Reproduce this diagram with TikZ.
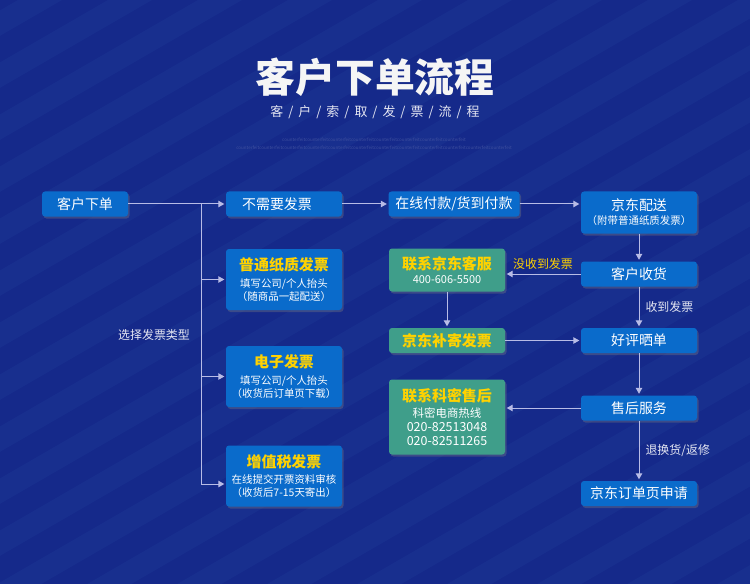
\documentclass[tikz,border=0pt]{standalone}
\usepackage{fontspec}
\newfontfamily\cjk{Noto Sans CJK SC}
\usetikzlibrary{arrows.meta, positioning, shadows, calc}
\definecolor{bgBlue}{HTML}{15298A}
\definecolor{stripeBlue}{HTML}{1C3895}
\definecolor{boxBlue}{HTML}{0A6BCB}
\definecolor{boxGreen}{HTML}{3F9E8A}
\definecolor{mainYellow}{HTML}{FFD200}
\definecolor{lineGray}{HTML}{B8BCE6}
\definecolor{subWhite}{HTML}{E4E6F2}
\newcommand{\bigfs}{\fontsize{14}{16}\selectfont}
\newcommand{\smallfs}{\fontsize{10.5}{12}\selectfont}
\newcommand{\headfs}{\fontsize{15}{17}\selectfont\bfseries\color{mainYellow}}
\newcommand{\slashsep}{\hspace{5bp}/\hspace{5bp}}

\tikzset{
  flowbox/.style={rounded corners=3bp, fill=boxBlue, text=white, align=center,
    inner sep=0pt, minimum width=116bp, minimum height=25bp, font=\cjk\bigfs,
    drop shadow={opacity=0.35, shadow xshift=1.5bp, shadow yshift=-2bp}},
  greenbox/.style={flowbox, fill=boxGreen},
  flow/.style={draw=lineGray, line width=1bp, -{Triangle[length=6bp, width=6.5bp]},
    shorten >=1.5bp},
  note/.style={text=subWhite, font=\cjk\fontsize{12}{14}\selectfont, inner sep=0pt},
}

\begin{document}
\begin{tikzpicture}[x=1bp, y=-1bp]
  % 背景
  \fill[bgBlue] (0,0) rectangle (750,584);
  \begin{scope}
    \clip (0,0) rectangle (750,584);
    \foreach \k in {0,...,22} {
      \draw[stripeBlue, line width=22bp, opacity=0.45] (-50,\k*52) -- ++(900,-520);
    }
  \end{scope}

  % タイトル
  \node[text=white!92!gray, font=\cjk\fontsize{40}{44}\selectfont\bfseries, inner sep=0pt]
    (title) at (375,77) {客户下单流程};
  \node[text=subWhite, font=\cjk\fontsize{13}{15}\selectfont, inner sep=0pt] (subtitle) at (375,112)
    {客\slashsep 户\slashsep 索\slashsep 取\slashsep 发\slashsep 票\slashsep 流\slashsep 程};
  \node[text=bgBlue!82!white, font=\cjk\fontsize{4.5}{5}\selectfont, inner sep=0pt] (mark1) at (374,140)
    {counterfeitcounterfeitcounterfeitcounterfeitcounterfeitcounterfeitcounterfeitcounterfeit};
  \node[text=bgBlue!82!white, font=\cjk\fontsize{4.5}{5}\selectfont, inner sep=0pt] (mark2) at (374,148)
    {counterfeitcounterfeitcounterfeitcounterfeitcounterfeitcounterfeitcounterfeitcounterfeitcounterfeitcounterfeitcounterfeitcounterfeit};

  % 左列
  \node[flowbox, minimum width=86bp] (order) at (85,204) {客户下单};
  \node[flowbox] (nofp) at (284,204) {不需要发票\hspace{14bp}};
  \node[flowbox, minimum height=61bp] (paper) at (284,279.5)
    {{\headfs 普通纸质发票}\\[1bp]{\smallfs 填写公司/个人抬头}\\[-3bp]{\smallfs（随商品一起配送）}};
  \node[flowbox, minimum height=61bp] (einv) at (284,376.5)
    {{\headfs 电子发票}\\[1bp]{\smallfs 填写公司/个人抬头}\\[-3bp]{\smallfs（收货后订单页下载）}};
  \node[flowbox, minimum height=61bp] (vat) at (284,476)
    {{\headfs 增值税发票}\\[1bp]{\smallfs 在线提交开票资料审核}\\[-3bp]{\smallfs（收货后7-15天寄出）}};

  % 中列
  \node[flowbox, minimum width=131bp] (payment) at (454,204) {在线付款/货到付款};
  \node[greenbox, minimum height=43bp] (jdservice) at (447,270)
    {{\headfs 联系京东客服}\\[-2bp]{\fontsize{11}{12}\selectfont 400-606-5500}};
  \node[greenbox] (reissue) at (447,340.5) {\headfs 京东补寄发票};
  \node[greenbox, minimum height=75bp] (kemi) at (447,417)
    {{\headfs 联系科密售后}\\[0bp]{\fontsize{11.5}{13}\selectfont 科密电商热线}\\[-2bp]
     {\fontsize{12.5}{13}\selectfont 020-82513048}\\[-2bp]{\fontsize{12.5}{13}\selectfont 020-82511265}};

  % 右列
  \node[flowbox, minimum height=42bp] (deliver) at (639,212.5)
    {京东配送\\[-2bp]{\smallfs（附带普通纸质发票）}};
  \node[flowbox] (receive) at (639,274) {客户收货};
  \node[flowbox] (review) at (639,340.5) {好评晒单};
  \node[flowbox] (aftersale) at (639,408) {售后服务};
  \node[flowbox] (apply) at (639,493.5) {京东订单页申请};

  % 分岐
  \coordinate (split) at (201,204);
  \draw[flow] (order) -- (nofp);
  \draw[flow] (split) |- ([yshift=-8bp]vat.west);
  \foreach \n in {paper, einv} {
    \draw[flow] (split |- \n.west) -- (\n.west);
  }
  \node[note] (choose) at (154,334.5) {选择发票类型};

  % 流れ
  \draw[flow] (nofp) -- (payment);
  \draw[flow] (payment) -- (deliver.west |- payment.east);
  \draw[flow] (deliver) -- (receive);
  \draw[flow] (receive.west) -- (receive.west -| jdservice.east)
    node[midway, above=4bp, note, text=mainYellow] (nogot) {没收到发票};
  \draw[flow] (receive) -- (review)
    node[midway, right=6bp, note] (gotinv) {收到发票};
  \draw[flow] (jdservice) -- (reissue);
  \draw[flow] (reissue) -- (review);
  \draw[flow] (review) -- (aftersale);
  \draw[flow] (aftersale.west) -- (aftersale.west -| kemi.east);
  \draw[flow] (aftersale) -- (apply)
    node[midway, right=6bp, note] (returns) {退换货/返修};
\end{tikzpicture}
\end{document}
